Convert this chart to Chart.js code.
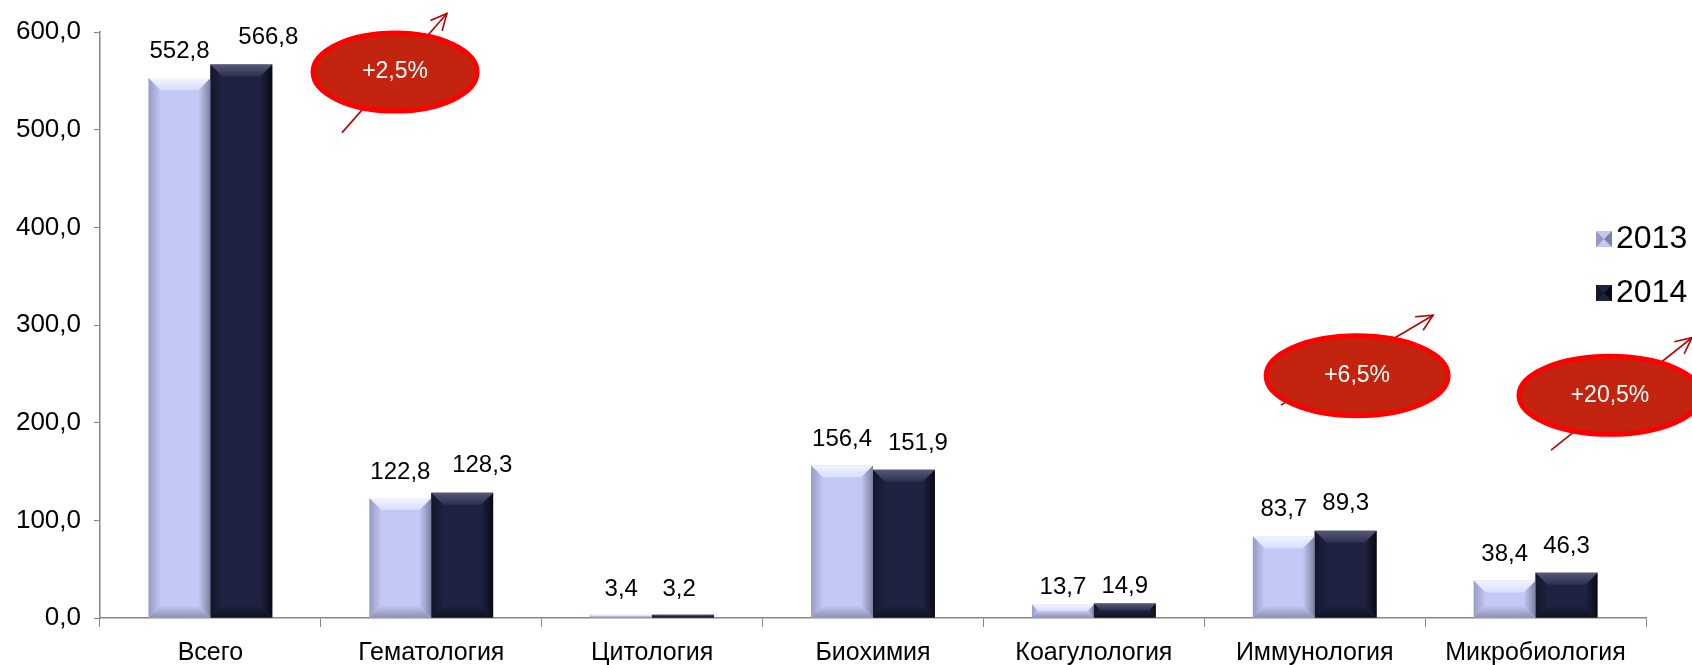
<!DOCTYPE html>
<html>
<head>
<meta charset="utf-8">
<script src="https://cdn.jsdelivr.net/npm/chart.js@4.4.1/dist/chart.umd.min.js"></script>
<style>
  body { margin: 0; background: #fff; }
  #wrap { width: 1692px; height: 665px; position: relative; }
</style>
</head>
<body>
<div id="wrap"><canvas id="labChart"></canvas></div>
<script>
// Chart data
const categories = ["Всего", "Гематология", "Цитология", "Биохимия", "Коагулология", "Иммунология", "Микробиология"];
const seriesNames = ["2013", "2014"];
const values2013 = [552.8, 122.8, 3.4, 156.4, 13.7, 83.7, 38.4];
const values2014 = [566.8, 128.3, 3.2, 151.9, 14.9, 89.3, 46.3];
const yTicks = [0, 100, 200, 300, 400, 500, 600];
const growthLabels = ["+2,5%", "+6,5%", "+20,5%"];

// Callout layout (in axis units: category index / value), kept apart from the data
const calloutLayout = [
  { cx: 0.836, cy: 559, w: 164, h: 78, from: [0.596, 497], to: [1.071, 619] },
  { cx: 5.192, cy: 248, w: 182, h: 80, from: [4.847, 218], to: [5.536, 310] },
  { cx: 6.337, cy: 228, w: 182, h: 78, from: [6.070, 172], to: [6.708, 287] }
];

// Value label nudges in px (labels were moved by hand in the original)
const labelShiftX = [
  [0, 0, 0, 0, 0, 0, 0],
  [27, 20, -4, 14, 0, 0, 0]
];
const labelGap = [
  [27, 26, 25, 26, 17, 27, 26],
  [27, 27, 25, 26, 17, 27, 26]
];

const FONT = "'Liberation Sans', Arial, sans-serif";
const faceColors = ["#c3c9f4", "#1f2240"];
const bevelColors = [
  { top: ["#f2f4ff", "#d9defb"], left: "#959bc2", right: "#7b809f", bottom: "#8b90b2" },
  { top: ["#555a78", "#2c304e"], left: "#13152a", right: "#090a14", bottom: "#0f1120" }
];

function fmt(v) {
  return v.toFixed(1).replace(".", ",");
}

// Bevel look on bars
const bevelPlugin = {
  id: "bevel",
  afterDatasetsDraw(chart) {
    const ctx = chart.ctx;
    chart.data.datasets.forEach((ds, di) => {
      const meta = chart.getDatasetMeta(di);
      const c = bevelColors[di];
      meta.data.forEach((bar) => {
        const p = bar.getProps(["x", "y", "base", "width"], true);
        const l = p.x - p.width / 2, r = p.x + p.width / 2, t = p.y, b = p.base;
        const bv = Math.min(12, (b - t) / 2);
        if (bv <= 0) return;
        ctx.save();
        // left
        let g = ctx.createLinearGradient(l, 0, l + bv, 0);
        g.addColorStop(0, c.left); g.addColorStop(1, faceColors[di]);
        ctx.fillStyle = g;
        ctx.beginPath(); ctx.moveTo(l, t); ctx.lineTo(l + bv, t + bv); ctx.lineTo(l + bv, b - bv); ctx.lineTo(l, b); ctx.closePath(); ctx.fill();
        // right
        g = ctx.createLinearGradient(r, 0, r - bv, 0);
        g.addColorStop(0, c.right); g.addColorStop(1, faceColors[di]);
        ctx.fillStyle = g;
        ctx.beginPath(); ctx.moveTo(r, t); ctx.lineTo(r - bv, t + bv); ctx.lineTo(r - bv, b - bv); ctx.lineTo(r, b); ctx.closePath(); ctx.fill();
        // bottom
        g = ctx.createLinearGradient(0, b, 0, b - bv);
        g.addColorStop(0, c.bottom); g.addColorStop(1, faceColors[di]);
        ctx.fillStyle = g;
        ctx.beginPath(); ctx.moveTo(l, b); ctx.lineTo(l + bv, b - bv); ctx.lineTo(r - bv, b - bv); ctx.lineTo(r, b); ctx.closePath(); ctx.fill();
        // top
        g = ctx.createLinearGradient(0, t, 0, t + bv);
        g.addColorStop(0, c.top[0]); g.addColorStop(1, c.top[1]);
        ctx.fillStyle = g;
        ctx.beginPath(); ctx.moveTo(l, t); ctx.lineTo(r, t); ctx.lineTo(r - bv, t + bv); ctx.lineTo(l + bv, t + bv); ctx.closePath(); ctx.fill();
        ctx.restore();
      });
    });
  }
};

// Value labels above the bars
const valueLabelPlugin = {
  id: "valueLabels",
  afterDatasetsDraw(chart) {
    const ctx = chart.ctx;
    ctx.save();
    ctx.font = "24px " + FONT;
    ctx.fillStyle = "#000";
    ctx.textAlign = "center";
    ctx.textBaseline = "middle";
    chart.data.datasets.forEach((ds, di) => {
      chart.getDatasetMeta(di).data.forEach((bar, i) => {
        ctx.fillText(fmt(ds.data[i]), bar.x + labelShiftX[di][i], bar.y - labelGap[di][i]);
      });
    });
    ctx.restore();
  }
};

// Red ellipses with growth arrows
const calloutPlugin = {
  id: "callouts",
  afterDraw(chart) {
    const ctx = chart.ctx;
    const xs = chart.scales.x, ys = chart.scales.y;
    ctx.save();
    calloutLayout.forEach((o, k) => {
      const x1 = xs.getPixelForValue(o.from[0]), y1 = ys.getPixelForValue(o.from[1]);
      const x2 = xs.getPixelForValue(o.to[0]), y2 = ys.getPixelForValue(o.to[1]);
      ctx.strokeStyle = "#b80000";
      ctx.lineWidth = 1.6;
      ctx.beginPath(); ctx.moveTo(x1, y1); ctx.lineTo(x2, y2); ctx.stroke();
      const ang = Math.atan2(y2 - y1, x2 - x1);
      const hl = 18, ha = 0.45;
      ctx.beginPath();
      ctx.moveTo(x2 - hl * Math.cos(ang - ha), y2 - hl * Math.sin(ang - ha));
      ctx.lineTo(x2, y2);
      ctx.lineTo(x2 - hl * Math.cos(ang + ha), y2 - hl * Math.sin(ang + ha));
      ctx.stroke();

      const cx = xs.getPixelForValue(o.cx), cy = ys.getPixelForValue(o.cy);
      ctx.beginPath();
      ctx.ellipse(cx, cy, o.w / 2, o.h / 2, 0, 0, Math.PI * 2);
      ctx.fillStyle = "#c3240f";
      ctx.fill();
      ctx.lineWidth = 5;
      ctx.strokeStyle = "#ff0000";
      ctx.stroke();
      ctx.font = "23px " + FONT;
      ctx.fillStyle = "#fff";
      ctx.textAlign = "center";
      ctx.textBaseline = "middle";
      ctx.fillText(growthLabels[k], cx, cy);
    });
    ctx.restore();
  }
};

// Legend on the right
const legendPlugin = {
  id: "sideLegend",
  afterDraw(chart) {
    const ctx = chart.ctx;
    ctx.save();
    ctx.font = "32px " + FONT;
    ctx.textBaseline = "middle";
    chart.data.datasets.forEach((ds, di) => {
      const y = 239 + di * 54;
      const x = 1596;
      const c = bevelColors[di];
      ctx.fillStyle = faceColors[di];
      ctx.fillRect(x, y - 8, 16, 16);
      ctx.fillStyle = c.right;
      ctx.beginPath(); ctx.moveTo(x + 16, y - 8); ctx.lineTo(x + 8, y); ctx.lineTo(x + 16, y + 8); ctx.closePath(); ctx.fill();
      ctx.fillStyle = c.left;
      ctx.beginPath(); ctx.moveTo(x, y - 8); ctx.lineTo(x + 8, y); ctx.lineTo(x, y + 8); ctx.closePath(); ctx.fill();
      ctx.fillStyle = "#000";
      ctx.fillText(ds.label, 1616, y);
    });
    ctx.restore();
  }
};

const ctx = document.getElementById("labChart").getContext("2d");
const labChart = new Chart(ctx, {
  type: "bar",
  data: {
    labels: categories,
    datasets: [
      { label: seriesNames[0], data: values2013, backgroundColor: faceColors[0], barPercentage: 1, categoryPercentage: 0.56 },
      { label: seriesNames[1], data: values2014, backgroundColor: faceColors[1], barPercentage: 1, categoryPercentage: 0.56 }
    ]
  },
  options: {
    responsive: true,
    maintainAspectRatio: false,
    animation: false,
    devicePixelRatio: 1,
    layout: { padding: { top: 32, right: 46, left: 0, bottom: 0 } },
    plugins: {
      legend: { display: false },
      tooltip: { enabled: false }
    },
    scales: {
      x: {
        grid: { display: true, drawOnChartArea: false, tickLength: 9, color: "#868686", offset: true },
        border: { color: "#868686", width: 1.5 },
        ticks: { font: { family: FONT, size: 25 }, color: "#000", padding: 11, maxRotation: 0, autoSkip: false },
        afterFit: (s) => { s.height = 47; }
      },
      y: {
        min: yTicks[0],
        max: yTicks[yTicks.length - 1],
        afterBuildTicks: (s) => { s.ticks = yTicks.map(v => ({ value: v })); },
        grid: { drawOnChartArea: false, tickLength: 6, color: "#868686" },
        border: { color: "#868686", width: 1.5 },
        ticks: { font: { family: FONT, size: 26 }, color: "#000", padding: 13, callback: (v) => fmt(v) },
        afterFit: (s) => { s.width = 100; }
      }
    }
  },
  plugins: [bevelPlugin, valueLabelPlugin, calloutPlugin, legendPlugin]
});
</script>
</body>
</html>
